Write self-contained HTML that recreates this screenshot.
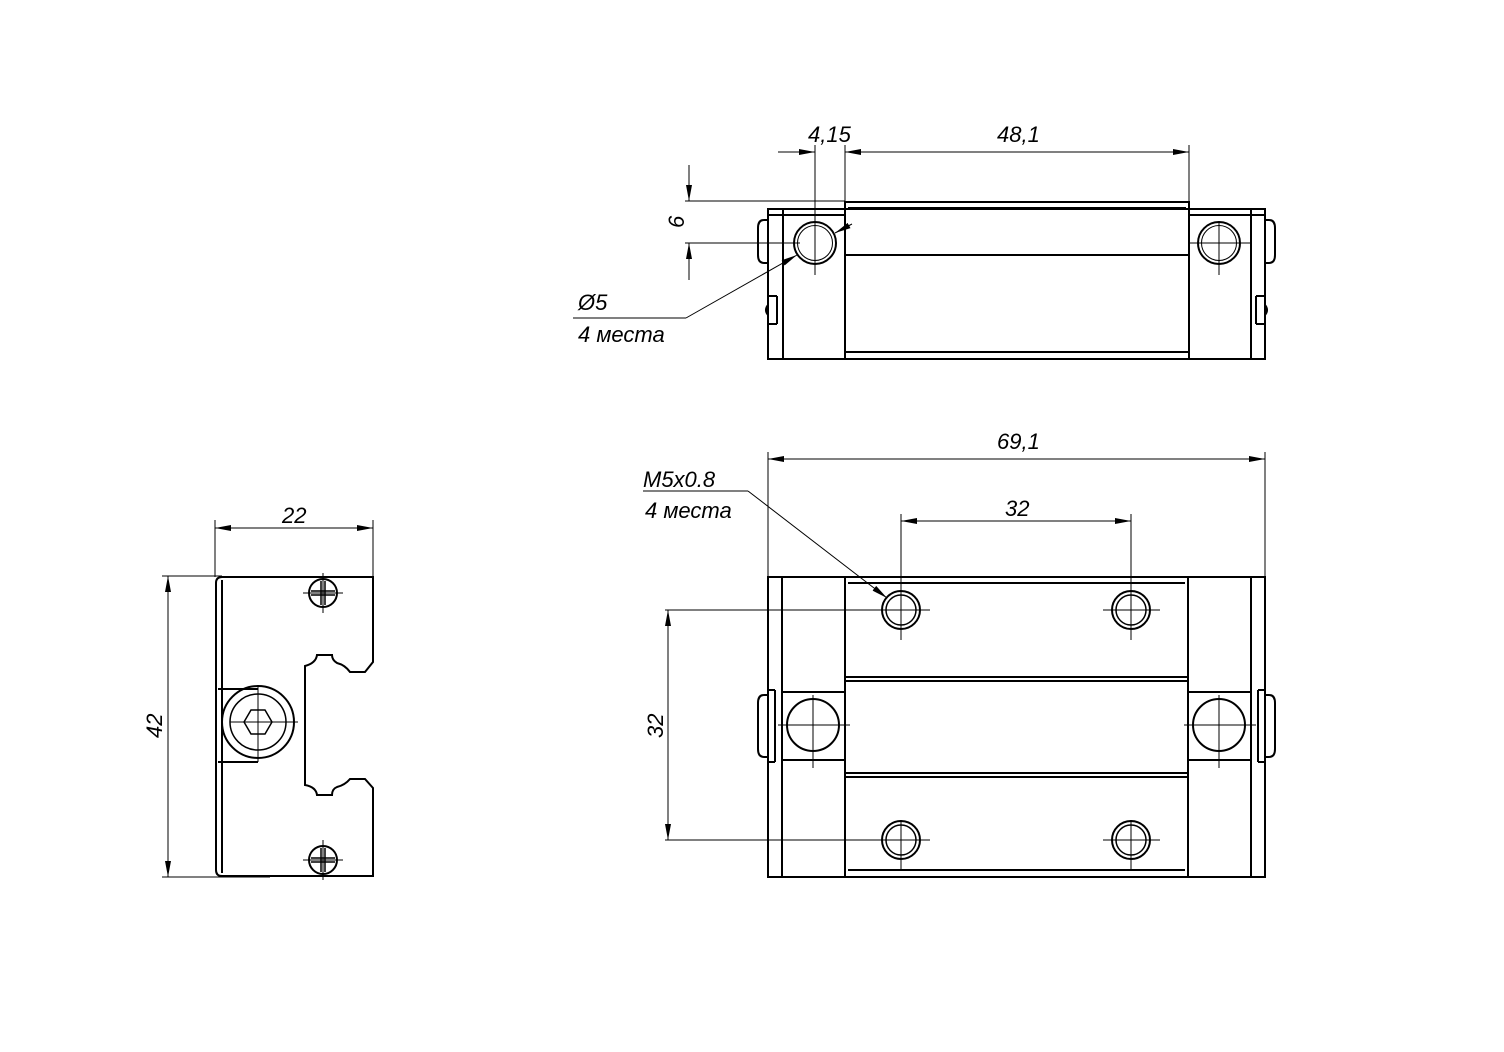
<!DOCTYPE html>
<html><head><meta charset="utf-8"><style>
html,body{margin:0;padding:0;background:#fff}
svg{display:block}
text{font-family:"Liberation Sans","DejaVu Sans",sans-serif;font-style:italic;font-size:22px;fill:#000}
</style></head><body>
<svg width="1504" height="1052" viewBox="0 0 1504 1052" xmlns="http://www.w3.org/2000/svg">
<defs>
<marker id="a" markerWidth="16" markerHeight="6" refX="16" refY="3" orient="auto" markerUnits="userSpaceOnUse"><path d="M0,0 L16,3 L0,6z" fill="#000"/></marker>
<marker id="b" markerWidth="16" markerHeight="6" refX="0" refY="3" orient="auto" markerUnits="userSpaceOnUse"><path d="M16,0 L0,3 L16,6z" fill="#000"/></marker>
</defs>
<g fill="none" stroke="#000" stroke-width="1">
<!-- ===== TOP VIEW ===== -->
<g stroke-width="2">
<rect x="768" y="209" width="497" height="150"/>
<line x1="783" y1="209" x2="783" y2="359"/>
<line x1="1251" y1="209" x2="1251" y2="359"/>
<path d="M845,359 V202 H1189 V359"/>
<line x1="845" y1="352" x2="1189" y2="352"/>
<line x1="768" y1="215" x2="845" y2="215"/>
<line x1="1189" y1="215" x2="1265" y2="215"/>
<line x1="848" y1="208" x2="1186" y2="208"/>
<line x1="845" y1="255" x2="1189" y2="255"/>
<path d="M768,220 H764 Q758,220 758,228 V255 Q758,263 764,263 H768"/>
<path d="M1265,220 H1269 Q1275,220 1275,228 V255 Q1275,263 1269,263 H1265"/>
<path d="M777,296 V324 M768,296 H777 M768,324 H777 M768,305 Q764,310 768,315"/>
<path d="M1256,296 V324 M1265,296 H1256 M1265,324 H1256 M1265,305 Q1269,310 1265,315"/>
</g>
<circle cx="815" cy="243" r="21" stroke-width="2"/><circle cx="815" cy="243" r="17.5"/>
<circle cx="1219" cy="243" r="21" stroke-width="2"/><circle cx="1219" cy="243" r="17.5"/>
<line x1="815" y1="145" x2="815" y2="275"/>
<line x1="1219" y1="222" x2="1219" y2="275"/><line x1="1190" y1="243" x2="1250" y2="243"/>
<line x1="845" y1="145" x2="845" y2="202"/>
<line x1="1189" y1="145" x2="1189" y2="210"/>
<line x1="778" y1="152" x2="815" y2="152" marker-end="url(#a)"/>
<line x1="845" y1="152" x2="1189" y2="152" marker-start="url(#b)" marker-end="url(#a)"/>
<line x1="685" y1="201" x2="845" y2="201"/>
<line x1="685" y1="243" x2="800" y2="243"/>
<line x1="689" y1="165" x2="689" y2="201" marker-end="url(#a)"/>
<line x1="689" y1="280" x2="689" y2="243" marker-end="url(#a)"/>
<line x1="852" y1="224" x2="835" y2="233" marker-end="url(#a)"/>
<line x1="686" y1="318" x2="797" y2="255" marker-end="url(#a)"/>
<line x1="573" y1="318" x2="686" y2="318"/>

<!-- ===== SIDE VIEW ===== -->
<g stroke-width="2">
<path d="M222,577 H373 V662 L365,672 H350 Q345,665 337,663 Q332,660 332,655 H317 Q316,663 305,666 V785 Q316,787 317,795 H332 Q332,789 337,787 Q345,785 350,779 H365 L373,788 V876 H222 Q216,876 216,870 V583 Q216,577 222,577 Z"/>
<line x1="222" y1="580" x2="222" y2="873"/>
<path d="M218,689 H258 M218,762 H258"/>
</g>
<circle cx="258" cy="722" r="36" stroke-width="2"/>
<circle cx="258" cy="722" r="28" stroke-width="1.5"/>
<polygon points="244,722 251,710 265,710 272,722 265,734 251,734" stroke-width="1.5"/>
<line x1="230" y1="722" x2="298" y2="722"/><line x1="258" y1="687" x2="258" y2="762"/>
<circle cx="323" cy="593" r="14" stroke-width="2"/>
<path d="M311,591 H335 M311,595 H335 M321,581 V605 M325,581 V605" stroke-width="1.5"/>
<line x1="303" y1="593" x2="343" y2="593"/><line x1="323" y1="573" x2="323" y2="613"/>
<circle cx="323" cy="860" r="14" stroke-width="2"/>
<path d="M311,858 H335 M311,862 H335 M321,848 V872 M325,848 V872" stroke-width="1.5"/>
<line x1="303" y1="860" x2="343" y2="860"/><line x1="323" y1="840" x2="323" y2="880"/>
<line x1="215" y1="520" x2="215" y2="577"/><line x1="373" y1="520" x2="373" y2="577"/>
<line x1="215" y1="528" x2="373" y2="528" marker-start="url(#b)" marker-end="url(#a)"/>
<line x1="162" y1="576" x2="222" y2="576"/><line x1="162" y1="877" x2="270" y2="877"/>
<line x1="168" y1="576" x2="168" y2="877" marker-start="url(#b)" marker-end="url(#a)"/>

<!-- ===== BOTTOM-RIGHT VIEW ===== -->
<g stroke-width="2">
<rect x="768" y="577" width="497" height="300"/>
<line x1="782" y1="577" x2="782" y2="877"/>
<line x1="1251" y1="577" x2="1251" y2="877"/>
<rect x="845" y="577" width="343" height="300"/>
<line x1="848" y1="583" x2="1185" y2="583"/>
<line x1="845" y1="677" x2="1188" y2="677"/>
<line x1="845" y1="681" x2="1188" y2="681"/>
<line x1="845" y1="773" x2="1188" y2="773"/>
<line x1="845" y1="777" x2="1188" y2="777"/>
<line x1="848" y1="870" x2="1185" y2="870"/>
<line x1="782" y1="692" x2="845" y2="692"/><line x1="782" y1="760" x2="845" y2="760"/>
<line x1="1188" y1="692" x2="1251" y2="692"/><line x1="1188" y1="760" x2="1251" y2="760"/>
<path d="M768,695 H764 Q758,695 758,703 V749 Q758,757 764,757 H768"/>
<path d="M1265,695 H1269 Q1275,695 1275,703 V749 Q1275,757 1269,757 H1265"/>
<path d="M775,690 V762 M768,690 H775 M768,762 H775"/>
<path d="M1258,690 V762 M1265,690 H1258 M1265,762 H1258"/>
</g>
<g>
<circle cx="901" cy="610" r="19" stroke-width="2"/><circle cx="901" cy="610" r="15" stroke-width="1.5"/>
<circle cx="1131" cy="610" r="19" stroke-width="2"/><circle cx="1131" cy="610" r="15" stroke-width="1.5"/>
<circle cx="901" cy="840" r="19" stroke-width="2"/><circle cx="901" cy="840" r="15" stroke-width="1.5"/>
<circle cx="1131" cy="840" r="19" stroke-width="2"/><circle cx="1131" cy="840" r="15" stroke-width="1.5"/>
<circle cx="813" cy="725" r="26" stroke-width="2"/>
<circle cx="1219" cy="725" r="26" stroke-width="2"/>
</g>
<line x1="901" y1="514" x2="901" y2="640"/><line x1="1131" y1="514" x2="1131" y2="640"/>
<line x1="665" y1="610" x2="930" y2="610"/><line x1="1103" y1="610" x2="1160" y2="610"/>
<line x1="901" y1="820" x2="901" y2="870"/><line x1="1131" y1="820" x2="1131" y2="870"/>
<line x1="665" y1="840" x2="930" y2="840"/><line x1="1103" y1="840" x2="1160" y2="840"/>
<line x1="813" y1="695" x2="813" y2="768"/><line x1="778" y1="725" x2="850" y2="725"/>
<line x1="1219" y1="695" x2="1219" y2="768"/><line x1="1184" y1="725" x2="1256" y2="725"/>
<line x1="768" y1="452" x2="768" y2="577"/><line x1="1265" y1="452" x2="1265" y2="577"/>
<line x1="768" y1="459" x2="1265" y2="459" marker-start="url(#b)" marker-end="url(#a)"/>
<line x1="901" y1="521" x2="1131" y2="521" marker-start="url(#b)" marker-end="url(#a)"/>
<line x1="668" y1="610" x2="668" y2="840" marker-start="url(#b)" marker-end="url(#a)"/>
<line x1="643" y1="491" x2="748" y2="491"/>
<line x1="748" y1="491" x2="887" y2="598" marker-end="url(#a)"/>
</g>
<text x="808" y="142">4,15</text>
<text x="997" y="142">48,1</text>
<text x="0" y="0" transform="translate(684,228) rotate(-90)">6</text>
<text x="578" y="310">Ø5</text>
<text x="578" y="342">4 места</text>
<text x="282" y="523">22</text>
<text x="0" y="0" transform="translate(162,738) rotate(-90)">42</text>
<text x="997" y="449">69,1</text>
<text x="1005" y="516">32</text>
<text x="0" y="0" transform="translate(663,738) rotate(-90)">32</text>
<text x="643" y="487">M5x0.8</text>
<text x="645" y="518">4 места</text>
</svg>
</body></html>
